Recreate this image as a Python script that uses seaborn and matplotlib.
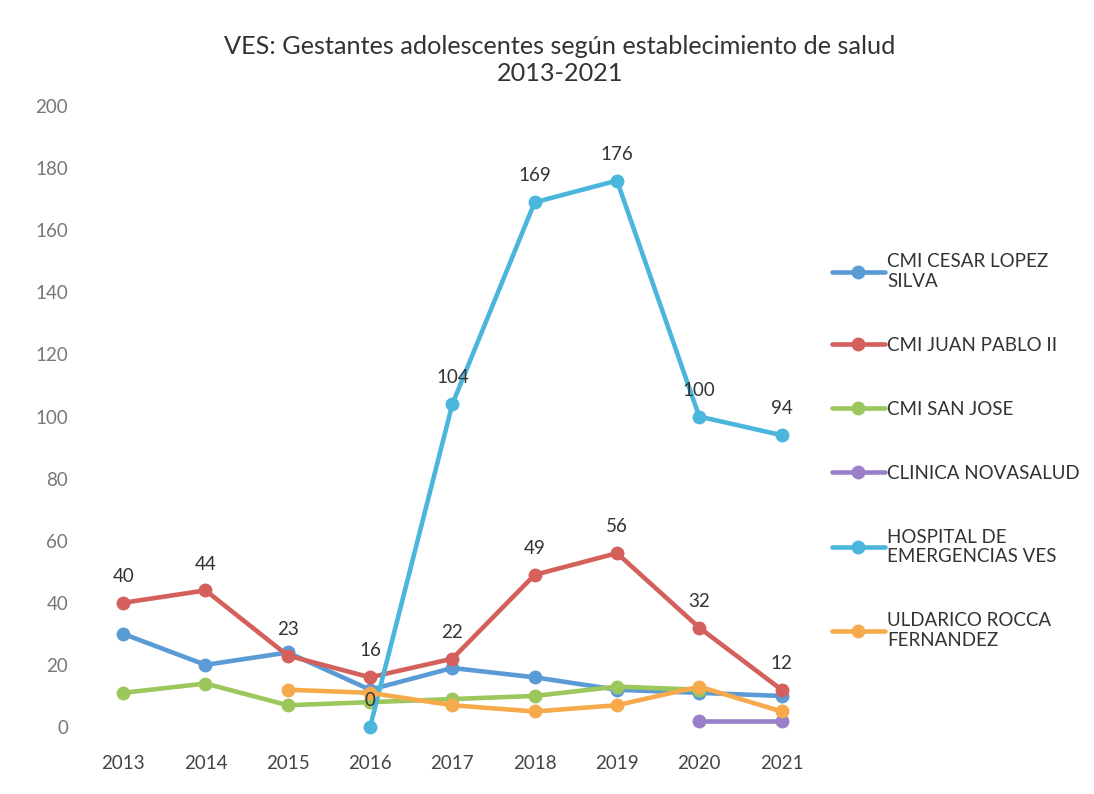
import seaborn as sns
from matplotlib import pyplot as plt
import pandas as pd
import numpy as np

years = [2013, 2014, 2015, 2016, 2017, 2018, 2019, 2020, 2021]
establecimientos = ['CMI CESAR LOPEZ\nSILVA', 'CMI JUAN PABLO II', 'CMI SAN JOSE',
                    'CLINICA NOVASALUD', 'HOSPITAL DE\nEMERGENCIAS VES',
                    'ULDARICO ROCCA\nFERNANDEZ']
cesar_lopez = [30, 20, 24, 12, 19, 16, 12, 11, 10]
juan_pablo = [40, 44, 23, 16, 22, 49, 56, 32, 12]
san_jose = [11, 14, 7, 8, 9, 10, 13, 12, np.nan]
novasalud = [np.nan] * 7 + [2, 2]
hospital = [np.nan, np.nan, np.nan, 0, 104, 169, 176, 100, 94]
uldarico = [np.nan, np.nan, 12, 11, 7, 5, 7, 13, 5]
colores = ['#5b9bd5', '#d4605c', '#9cc75c', '#9a80c8', '#4bb6dc', '#f6aa4c']

series = [cesar_lopez, juan_pablo, san_jose, novasalud, hospital, uldarico]
d = pd.DataFrame({
    'year': years * len(series),
    'value': sum([list(s) for s in series], []),
    'est': sum([[e] * len(years) for e in establecimientos], []),
}).dropna()

sns.set_style('white')
plt.rcParams['font.family'] = ['Lato', 'DejaVu Sans']
f = plt.figure(figsize=(10.94, 7.94), dpi=100)
ax = f.add_axes([0.075, 0.0844, 0.677, 0.782])
sns.lineplot(data=d, x='year', y='value', hue='est', hue_order=establecimientos,
             palette=colores, marker='o', markersize=10, linewidth=3.3,
             markeredgewidth=0, ax=ax, clip_on=False)

# etiquetas de datos (Juan Pablo II y Hospital)
for x, v in zip(years, juan_pablo):
    ax.annotate(str(v), (x, v), xytext=(0, 15), textcoords='offset points',
                ha='center', fontsize=13.5, color='#333333')
for x, v in zip(years, hospital):
    if not np.isnan(v):
        ax.annotate(str(int(v)), (x, v), xytext=(0, 15), textcoords='offset points',
                    ha='center', fontsize=13.5, color='#333333')

ax.set_xlim(2012.5, 2021.5)
ax.set_ylim(0, 200)
ax.set_xticks(years)
ax.set_yticks(range(0, 201, 20))
ax.tick_params(axis='x', colors='#444444', labelsize=13.5, length=0, pad=20)
ax.tick_params(axis='y', colors='#777777', labelsize=13.5, length=0, pad=10)
ax.set_xlabel('')
ax.set_ylabel('')
for s in ax.spines.values():
    s.set_visible(False)

ax.legend(loc='upper left', bbox_to_anchor=(0.99, 0.79), frameon=False,
          fontsize=13.5, handlelength=2.8, labelspacing=2.5, labelcolor='#333333',
          handletextpad=0.15)
f.suptitle('VES: Gestantes adolescentes según establecimiento de salud\n2013-2021',
           x=0.512, y=0.956, fontsize=18.2, color='#333333', linespacing=1.2)
f.savefig('out.png', dpi=100)
